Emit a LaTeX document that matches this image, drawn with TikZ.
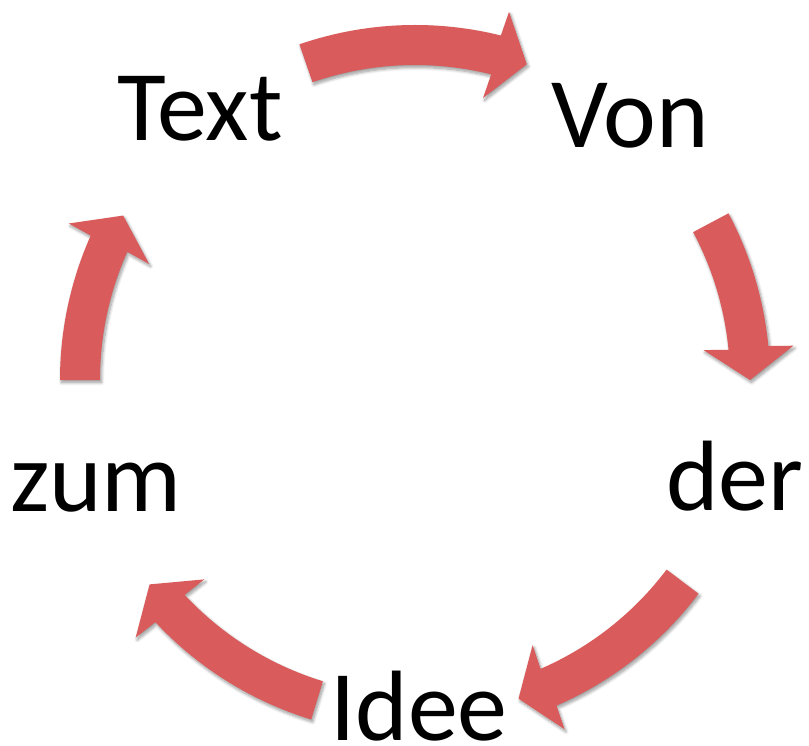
\documentclass[tikz,border=0pt]{standalone}
\usepackage{fontspec}
\setmainfont{Carlito}
\usetikzlibrary{calc,shadows.blur}
\definecolor{arrowred}{RGB}{218,91,91}
\tikzset{
  cyclearrow/.style={fill=arrowred, draw=none,
    blur shadow={shadow xshift=1.5pt, shadow yshift=-2.5pt,
      shadow blur radius=3pt, shadow blur steps=8, shadow opacity=40}},
  word/.style={anchor=base, inner sep=0pt, font=\fontsize{100}{114}\selectfont}
}
% curved block arrow on the ring: #1 name, #2 tail angle, #3 head base angle, #4 tip angle
\newcommand{\ringarrow}[4]{%
  \coordinate (#1-base) at (#3:335pt);
  \coordinate (#1-tip) at (#4:335pt);
  \coordinate (#1-out) at ($(#1-base)!45pt!90:(#1-tip)$);
  \coordinate (#1-in) at ($(#1-base)!45pt!-90:(#1-tip)$);
  \fill[cyclearrow] (#2:355pt) arc[start angle=#2, end angle=#3, radius=355pt]
    -- (#1-out) -- (#1-tip) -- (#1-in)
    -- (#3:315pt) arc[start angle=#3, end angle=#2, radius=315pt] -- cycle;
}
\begin{document}
\begin{tikzpicture}
  \useasboundingbox (0pt,-746pt) rectangle (809pt,0pt);
  % the five words of the cycle
  \node[word] (text) at (200pt,-141pt) {Text};
  \node[word] (von)  at (630pt,-148pt) {Von};
  \node[word] (der)  at (735pt,-510pt) {der};
  \node[word] (idee) at (419pt,-740pt) {Idee};
  \node[word] (zum)  at (96pt,-511pt)  {zum};
  % arrows around the ring, clockwise
  \begin{scope}[shift={(415pt,-380pt)}]
    \ringarrow{a1}{109}{76}{70.5}
    \ringarrow{a2}{28}{5.5}{0}
    \ringarrow{a3}{-37}{-66.5}{-72}
    \ringarrow{a4}{-107}{-137}{-142.4}
    \ringarrow{a5}{180}{156}{150.6}
  \end{scope}
\end{tikzpicture}
\end{document}
